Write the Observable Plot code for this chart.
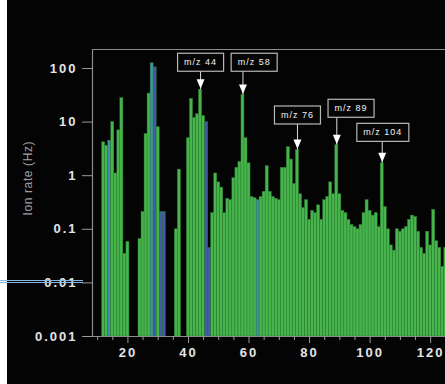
<!DOCTYPE html>
<html><head><meta charset="utf-8">
<script src="https://cdn.jsdelivr.net/npm/d3@7"></script>
<script src="https://cdn.jsdelivr.net/npm/@observablehq/plot@0.6"></script>
<style>
html,body{margin:0;padding:0;background:#040404;}
#wrap{position:relative;width:445px;height:384px;overflow:hidden;background:linear-gradient(to right,#ffffff 0px,#ffffff 7px,#040404 7px,#040404 100%);}
#strip{position:absolute;left:0;top:0;width:7px;height:384px;background:#fff;z-index:2;}
#blueline{position:absolute;left:0;top:280px;width:83px;height:1px;border-top:1px solid #86b8e6;border-bottom:1px solid #86b8e6;z-index:3;}
#wrap svg{position:absolute;left:0;top:0;z-index:1;}
.tk text{letter-spacing:2px;}
.ann text{letter-spacing:1px;}
.ylab text{letter-spacing:0.6px;}
</style></head><body><div id="wrap"><div id="strip"></div><div id="blueline"></div></div>
<script>
// m/z values of the bars
const mz = [12,13,14,15,16,17,18,19,20,
  24,25,26,27,28,29,30,31,32,
  36,37,40,41,42,43,44,45,46,47,
  48,49,50,51,52,53,54,55,56,57,58,
  59,60,61,62,63,64,65,66,67,68,69,70,71,72,73,74,75,76,
  77,78,79,80,81,82,83,84,85,86,87,88,89,
  90,91,92,93,94,95,96,97,98,99,100,101,102,103,104,
  105,106,107,108,109,110,111,112,113,114,115,116,117,118,119,120,121,122,123,124,125];
// ion rate (Hz)
const rate = [4.2,3.6,4.5,10,1.1,7,28,0.035,0.058,
  0.066,0.21,6,34,125,105,8,0.21,0.21,
  0.1,1.3,5,27,12,14,40,13,10,0.045,
  0.2,1.1,0.75,0.6,0.2,0.37,0.35,0.9,1.4,1.8,32,
  5,1.7,0.4,0.38,0.35,0.4,0.5,1.5,0.5,0.4,0.37,0.35,1.4,1.4,3.4,2,0.7,3.0,
  0.45,0.25,0.35,0.15,0.22,0.2,0.28,0.15,0.35,0.4,0.75,0.45,3.7,
  0.45,0.22,0.2,0.15,0.12,0.11,0.1,0.12,0.2,0.35,0.22,0.18,0.2,0.11,1.7,
  0.26,0.1,0.05,0.04,0.1,0.09,0.1,0.11,0.15,0.18,0.17,0.09,0.045,0.035,0.09,0.05,0.23,0.06,0.045,0.02,0.045];
// bar colour class: g green, b blue, t teal
const kind = ["g","g","t","g","g","g","g","g","g",
  "g","g","g","g","t","b","g","b","b",
  "g","g","g","g","g","g","g","g","b","b",
  "g","g","g","g","g","g","g","g","g","g","g",
  "g","g","g","g","t","g","g","g","g","g","g","g","g","g","g","g","g","g",
  "g","g","g","g","g","g","g","g","g","g","g","g","g",
  "g","g","g","g","g","g","g","g","g","g","g","g","g","g","g",
  "g","g","g","g","g","g","g","g","g","g","g","g","g","g","g","g","g","g","g","g","g"];

const yTicks = [0.001,0.01,0.1,1,10,100];
const yTickLabels = ["0.001","0.01","0.1","1","10","100"];
const xTicks = [20,40,60,80,100,120];
const xTickLabels = ["20","40","60","80","100","120"];
const xMinorTicks = [10,15,25,30,35,45,50,55,65,70,75,85,90,95,105,110,115,125];
const yLabel = "Ion rate (Hz)";

const annMz = [44,58,76,89,104];
const annLabel = ["m/z 44","m/z 58","m/z 76","m/z 89","m/z 104"];
const annBoxX = [44,61.7,76,93.7,104.2];
const annBoxY = [130,130,13.5,18,6.4];

const xDomain = [8.3,124.9];
const yDomain = [0.001,226];
const palette = {g:"#47b54c", b:"#4458ac", t:"#3f929f"};

const bars = mz.map((m,i)=>({mz:m, v:rate[i], c:palette[kind[i]]}));
const ann = annMz.map((m,i)=>({mz:m, label:annLabel[i], bx:annBoxX[i], by:annBoxY[i], tip:rate[mz.indexOf(m)]}));

const downTri = {draw(ctx, size){ const s = Math.sqrt(size)*0.56; ctx.moveTo(-s,-2.4*s); ctx.lineTo(s,-2.4*s); ctx.lineTo(0,0); ctx.closePath(); }};

const plot = Plot.plot({
  width:445, height:384,
  marginLeft:92, marginRight:0, marginTop:49, marginBottom:48,
  style:{background:"transparent", color:"#e8e8e8", fontFamily:"Liberation Sans, Arial, sans-serif", overflow:"visible"},
  x:{domain:xDomain, axis:null},
  y:{type:"log", domain:yDomain, axis:null},
  color:{type:"identity"},
  marks:[
    Plot.rect(bars, {x1:d=>d.mz-0.5, x2:d=>d.mz+0.5, y1:()=>yDomain[0], y2:"v", fill:"c", stroke:"#2c8234", strokeWidth:0.45, clip:true}),
    Plot.ruleY([yDomain[1]], {stroke:"#8c8c8c", strokeWidth:1.2}),
    Plot.ruleX([xDomain[0]], {stroke:"#8c8c8c", strokeWidth:1.2}),
    Plot.ruleY([yDomain[0]], {stroke:"#8c8c8c", strokeWidth:1.2}),
    Plot.axisY(yTicks, {anchor:"left", tickSize:10, tickPadding:5, fontSize:13, fontWeight:"bold", stroke:"#9a9a9a", fill:"#e4e4e4", tickFormat:d=>yTickLabels[yTicks.indexOf(d)], className:"tk"}),
    Plot.axisX(xTicks, {anchor:"bottom", tickSize:7, tickPadding:4, fontSize:13, fontWeight:"bold", stroke:"#9a9a9a", fill:"#e4e4e4", tickFormat:d=>xTickLabels[xTicks.indexOf(d)], className:"tk"}),
    Plot.axisX(xMinorTicks, {anchor:"bottom", tickSize:4, stroke:"#9a9a9a", tickFormat:()=>""}),
    Plot.text([yLabel], {x:()=>xDomain[0], y:()=>0.9, dx:-64, rotate:-90, fontSize:12, fill:"#a0a0a0", clip:false, className:"ylab"}),
    Plot.ruleX(ann, {x:"mz", y1:"tip", y2:"by", stroke:"#dddddd", strokeWidth:1}),
    Plot.dot(ann, {x:"mz", y:"tip", symbol:downTri, r:4, fill:"#ffffff", stroke:"none", dy:-1}),
    Plot.text(ann, {x:"bx", y:"by", text:"label", fontSize:9, fill:"#f2f2f2", className:"ann"})
  ]
});
document.getElementById("wrap").appendChild(plot);

// draw the label boxes around the annotation texts
d3.select(plot).selectAll(".ann text").each(function(){
  const b = this.getBBox();
  const padX = 6.5, padY = 4;
  d3.select(this.parentNode).insert("rect", () => this)
    .attr("transform", this.getAttribute("transform"))
    .attr("x", b.x - padX).attr("y", b.y - padY)
    .attr("width", b.width + 2*padX).attr("height", b.height + 2*padY)
    .attr("fill", "#050505").attr("stroke", "#b8b8b8").attr("stroke-width", 1.2);
});
</script></body></html>
